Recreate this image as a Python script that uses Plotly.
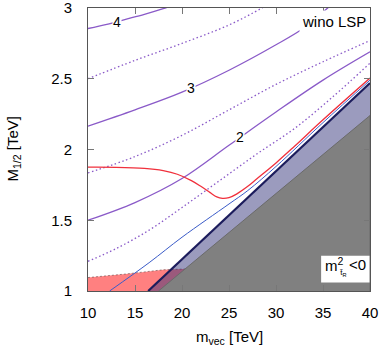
import plotly.graph_objects as go

# contour lines (M_{1/2} vs m_vec)
c4_x = [10, 12, 14, 16, 18, 19.5]
c4_y = [2.855, 2.885, 2.92, 2.955, 2.995, 3.03]
c35_x = [10, 15, 20, 25, 28.5, 30]
c35_y = [2.50, 2.63, 2.75, 2.88, 3.0, 3.06]
c3_x = [10, 15, 20, 25, 30, 33, 35.5, 37]
c3_y = [2.165, 2.28, 2.405, 2.56, 2.74, 2.86, 3.0, 3.08]
c25_x = [10, 15, 20, 25, 30, 35, 40]
c25_y = [1.834, 1.95, 2.10, 2.28, 2.46, 2.62, 2.77]
c2_x = [10, 15, 20, 25, 30, 35, 40]
c2_y = [1.50, 1.625, 1.795, 2.03, 2.265, 2.49, 2.69]
c15_x = [10, 13, 16.5, 20, 24, 28, 32, 36, 40]
c15_y = [1.21, 1.30, 1.43, 1.59, 1.78, 1.97, 2.15, 2.37, 2.61]

# contour labels
lab_text = ["4", "3", "2"]
lab_x = [13.1, 21.0, 26.2]
lab_y = [2.90, 2.435, 2.09]

# red curve
red_x = [10, 13, 16, 18, 19.5, 21, 22, 23, 23.7, 24.3, 25, 25.8, 27, 28, 30, 32, 35, 40]
red_y = [1.875, 1.874, 1.866, 1.85, 1.825, 1.78, 1.74, 1.695, 1.665, 1.655, 1.66,
         1.685, 1.74, 1.795, 1.905, 2.025, 2.21, 2.505]

# thin blue line
blue_x = [12.3, 16.5, 20, 25, 27, 30, 35, 40]
blue_y = [1.0, 1.2, 1.38, 1.615, 1.71, 1.88, 2.19, 2.49]

# boundaries of the shaded regions
navy_x = [16.4, 40]
navy_y = [1.0, 2.47]
gray_x = [17.5, 40]
gray_y = [1.0, 2.24]
pink_x = [10, 12, 14, 16, 18, 20, 21]
pink_y = [1.095, 1.105, 1.12, 1.135, 1.15, 1.155, 1.157]

PURPLE = "#8a5ac8"
FONT = "Liberation Sans, Arial, sans-serif"

fig = go.Figure()

# pink region
fig.add_trace(go.Scatter(
    x=pink_x + [pink_x[-1], pink_x[0]], y=pink_y + [1.0, 1.0],
    fill="toself", fillcolor="#ff8080", mode="lines", line=dict(width=0),
    hoverinfo="skip"))
fig.add_trace(go.Scatter(
    x=pink_x, y=pink_y, mode="lines",
    line=dict(color="rgba(90,60,60,0.55)", width=1, dash="2px,2px")))

# blue-grey band (transparent so the pink shows through)
fig.add_trace(go.Scatter(
    x=navy_x + [navy_x[-1]], y=navy_y + [1.0],
    fill="toself", fillcolor="rgba(45,45,120,0.48)", mode="lines",
    line=dict(width=0), hoverinfo="skip"))
fig.add_trace(go.Scatter(
    x=navy_x, y=navy_y, mode="lines",
    line=dict(color="#1c1c5c", width=2.2)))

# m^2 < 0 region
fig.add_trace(go.Scatter(
    x=gray_x + [gray_x[-1]], y=gray_y + [1.0],
    fill="toself", fillcolor="#808080", mode="lines",
    line=dict(color="#6a6a6a", width=1), hoverinfo="skip"))

# contours
for xs, ys, dash in [(c4_x, c4_y, "solid"), (c35_x, c35_y, "1.5px,2.5px"),
                     (c3_x, c3_y, "solid"), (c25_x, c25_y, "1.5px,2.5px"),
                     (c2_x, c2_y, "solid"), (c15_x, c15_y, "1.5px,2.5px")]:
    fig.add_trace(go.Scatter(
        x=xs, y=ys, mode="lines", line_shape="spline",
        line=dict(color=PURPLE, width=1.3, dash=dash)))

fig.add_trace(go.Scatter(
    x=blue_x, y=blue_y, mode="lines", line_shape="spline",
    line=dict(color="#3a5bc8", width=1)))
fig.add_trace(go.Scatter(
    x=red_x, y=red_y, mode="lines", line_shape="spline",
    line=dict(color="#f0303c", width=1.3)))

for t, x, y in zip(lab_text, lab_x, lab_y):
    fig.add_annotation(x=x, y=y, text=t, showarrow=False,
                       font=dict(size=14, color="black"),
                       bgcolor="white", borderpad=0)

fig.add_annotation(x=40, y=3, xanchor="right", yanchor="top", text="wino LSP",
                   showarrow=False, font=dict(size=15, color="black"),
                   bgcolor="white", xshift=-1, yshift=-2, borderpad=2)

# m^2_{t_R} < 0 label box
fig.add_shape(type="rect", x0=34.8, x1=39.95, y0=1.06, y1=1.25,
              fillcolor="white", line=dict(width=0))
fig.add_annotation(x=35.0, y=1.185, xanchor="left", text="m<sup>2</sup>",
                   showarrow=False, font=dict(size=15, color="black"))
fig.add_annotation(x=39.8, y=1.185, xanchor="right", text="&lt;0",
                   showarrow=False, font=dict(size=15, color="black"))
fig.add_annotation(x=37.15, y=1.125, text="t̃<sub>R</sub>",
                   showarrow=False, font=dict(size=8, color="black"))

# axis titles
fig.add_annotation(xref="paper", yref="paper", x=0, y=0.5, xshift=-75,
                   xanchor="center", yanchor="middle",
                   text="M<sub>1/2</sub> [TeV]", textangle=-90, showarrow=False,
                   font=dict(size=15, color="black"))
fig.add_annotation(xref="paper", yref="paper", x=0.5, y=0, yshift=-46,
                   xanchor="center", yanchor="middle",
                   text="m<sub>vec</sub> [TeV]", showarrow=False,
                   font=dict(size=15, color="black"))

axis_style = dict(showgrid=False, zeroline=False, showline=True, linecolor="#555",
                  linewidth=1, mirror="ticks", ticks="inside", ticklen=6,
                  tickcolor="#777", tickfont=dict(size=15, color="black"),
                  automargin=False, ticklabeloverflow="allow")
fig.update_xaxes(range=[10, 40], tickvals=[10, 15, 20, 25, 30, 35, 40],
                 ticklabelstandoff=8, **axis_style)
fig.update_yaxes(range=[1, 3], tickvals=[1, 1.5, 2, 2.5, 3],
                 ticktext=["1", "1.5", "2", "2.5", "3"],
                 ticklabelstandoff=12, **axis_style)

fig.update_layout(width=382, height=354, showlegend=False,
                  margin=dict(l=88, r=12, t=8, b=63),
                  plot_bgcolor="white", paper_bgcolor="white",
                  font=dict(family=FONT, color="black"))

# drop the default body margin so the figure sits at the window's corner
fig.write_html("out.html", config={"displayModeBar": False},
               post_script="document.body.style.margin='0';")
